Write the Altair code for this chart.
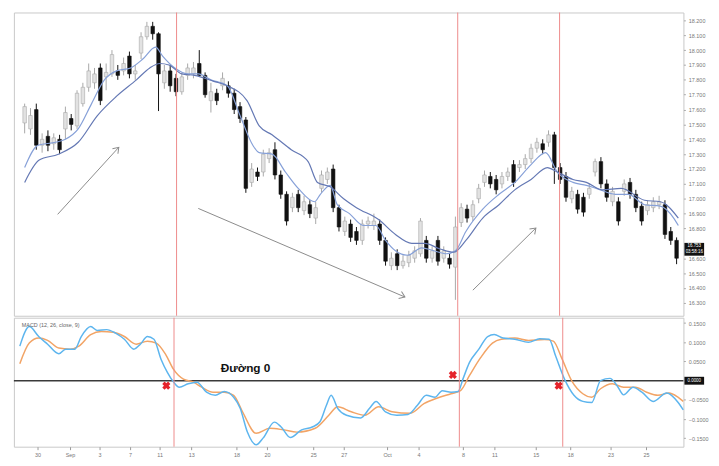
import json
import altair as alt
import pandas as pd

# ---------------- data ----------------
bar_open = [17.51, 17.47, 17.60, 17.36, 17.42, 17.37, 17.40, 17.47, 17.54, 17.49,
            17.64, 17.75, 17.78, 17.88, 17.82, 17.84, 17.86, 17.86, 17.96, 17.84,
            17.98, 18.09, 18.16, 18.11, 17.78, 17.86, 17.81, 17.72, 17.83, 17.84,
            17.91, 17.83, 17.66, 17.71, 17.76, 17.76, 17.71, 17.62, 17.53, 17.11,
            17.18, 17.18, 17.27, 17.33, 17.16, 17.03, 16.94, 17.03, 16.92, 16.96,
            16.87, 17.07, 17.13, 17.20, 16.94, 16.78, 16.83, 16.78, 16.72, 16.83,
            16.82, 16.83, 16.72, 16.55, 16.63, 16.55, 16.57, 16.60, 16.63, 16.72,
            16.60, 16.72, 16.60, 16.60, 16.54, 16.84, 16.93, 16.88, 17.00, 17.11,
            17.15, 17.13, 17.10, 17.15, 17.23, 17.21, 17.23, 17.27, 17.34, 17.37,
            17.38, 17.43, 17.21, 17.15, 17.00, 17.03, 17.01, 17.03, 17.18, 17.25,
            17.10, 16.98, 16.98, 17.05, 17.11, 17.03, 16.95, 16.92, 16.94, 16.96,
            16.96, 16.78, 16.72]
bar_close = [17.62, 17.56, 17.36, 17.40, 17.36, 17.41, 17.33, 17.58, 17.50, 17.71,
             17.75, 17.86, 17.84, 17.66, 17.85, 17.97, 17.83, 17.91, 17.84, 17.86,
             18.09, 18.16, 18.11, 17.84, 17.86, 17.76, 17.72, 17.82, 17.88, 17.88,
             17.83, 17.70, 17.72, 17.66, 17.81, 17.71, 17.60, 17.54, 17.07, 17.20,
             17.15, 17.30, 17.31, 17.16, 17.03, 16.85, 17.01, 16.94, 16.98, 16.90,
             16.94, 17.16, 17.18, 16.94, 16.81, 16.85, 16.74, 16.72, 16.83, 16.85,
             16.85, 16.72, 16.58, 16.60, 16.55, 16.58, 16.62, 16.65, 16.85, 16.60,
             16.65, 16.58, 16.65, 16.56, 16.81, 16.94, 16.87, 16.96, 17.07, 17.16,
             17.10, 17.06, 17.15, 17.18, 17.11, 17.23, 17.27, 17.34, 17.38, 17.33,
             17.43, 17.21, 17.13, 17.01, 17.05, 16.93, 16.91, 17.07, 17.25, 17.10,
             17.01, 17.05, 16.85, 17.10, 17.03, 16.94, 16.85, 16.96, 16.98, 16.98,
             16.76, 16.72, 16.60]
bar_high = [17.64, 17.61, 17.64, 17.44, 17.46, 17.44, 17.43, 17.62, 17.57, 17.73,
            17.78, 17.91, 17.88, 17.91, 17.91, 18.00, 17.90, 17.95, 17.99, 17.90,
            18.12, 18.19, 18.19, 18.12, 17.90, 17.90, 17.84, 17.85, 17.91, 17.92,
            18.00, 17.85, 17.78, 17.74, 17.85, 17.79, 17.74, 17.65, 17.55, 17.24,
            17.21, 17.33, 17.34, 17.38, 17.19, 17.05, 17.04, 17.06, 17.02, 16.99,
            16.98, 17.19, 17.21, 17.23, 16.96, 16.88, 16.86, 16.81, 16.86, 16.88,
            16.90, 16.86, 16.74, 16.64, 16.66, 16.62, 16.65, 16.68, 16.87, 16.75,
            16.68, 16.75, 16.68, 16.63, 16.88, 16.97, 16.96, 16.99, 17.10, 17.19,
            17.18, 17.16, 17.18, 17.21, 17.26, 17.26, 17.30, 17.37, 17.41, 17.40,
            17.46, 17.45, 17.24, 17.18, 17.08, 17.06, 17.04, 17.10, 17.27, 17.28,
            17.13, 17.08, 17.01, 17.13, 17.14, 17.06, 16.98, 16.99, 17.01, 17.02,
            16.99, 16.81, 16.74]
bar_low = [17.44, 17.43, 17.33, 17.31, 17.32, 17.33, 17.30, 17.40, 17.46, 17.47,
           17.62, 17.72, 17.74, 17.63, 17.73, 17.82, 17.80, 17.83, 17.81, 17.80,
           17.94, 18.07, 18.07, 17.59, 17.74, 17.72, 17.69, 17.70, 17.80, 17.81,
           17.82, 17.68, 17.58, 17.63, 17.73, 17.68, 17.57, 17.51, 17.04, 17.08,
           17.12, 17.15, 17.24, 17.13, 17.00, 16.82, 16.91, 16.91, 16.89, 16.87,
           16.83, 17.04, 17.10, 16.91, 16.78, 16.75, 16.71, 16.69, 16.69, 16.80,
           16.79, 16.69, 16.55, 16.52, 16.52, 16.53, 16.54, 16.57, 16.61, 16.57,
           16.57, 16.55, 16.57, 16.53, 16.32, 16.81, 16.84, 16.85, 16.97, 17.08,
           17.07, 17.03, 17.07, 17.12, 17.08, 17.18, 17.20, 17.24, 17.31, 17.30,
           17.35, 17.10, 17.10, 16.98, 16.97, 16.90, 16.88, 17.00, 17.15, 17.07,
           16.98, 16.95, 16.82, 17.02, 17.00, 16.91, 16.82, 16.89, 16.91, 16.93,
           16.73, 16.69, 16.56]

fast_i = [0, 2.3, 5.3, 7, 9.2, 11.5, 13.7, 15.8, 18.2, 20.3, 22.5, 23.7, 25.8, 28.2, 29.8,
          32, 34.8, 37, 39.2, 40.3, 42.5, 44.8, 47, 49.8, 50.8, 52.5, 53.7, 55.8, 58.2, 60.3,
          62, 63.7, 65.8, 68.2, 70.3, 72.5, 74, 75.8, 78.7, 81.5, 84.2, 87, 89.5, 91.5, 94.2,
          96.5, 98.2, 101.5, 103.7, 106.5, 109.2, 111.5, 112.3]
fast_v = [17.21, 17.36, 17.38, 17.40, 17.47, 17.64, 17.80, 17.86, 17.88, 17.94, 18.02, 17.96,
          17.88, 17.84, 17.84, 17.80, 17.76, 17.56, 17.36, 17.31, 17.30, 17.18, 17.07, 16.98,
          17.03, 17.09, 16.96, 16.90, 16.82, 16.82, 16.72, 16.65, 16.62, 16.67, 16.65, 16.63,
          16.65, 16.78, 16.93, 17.03, 17.11, 17.23, 17.31, 17.18, 17.11, 17.09, 17.07, 17.03,
          17.03, 16.96, 16.95, 16.87, 16.82]
slow_i = [0, 2.5, 5.8, 9.2, 12.5, 15.8, 19.2, 21.5, 23.2, 24.8, 27, 29.2, 32.5, 34.8, 38.2,
          40.3, 42.5, 45.8, 48.7, 50.3, 52.5, 54.8, 57, 60.8, 63.7, 66.5, 68.7, 71.5, 73.7,
          75.8, 78.7, 81.5, 84.2, 87, 89.8, 91.5, 94.2, 96.5, 99.2, 102.5, 106.5, 109.2, 112.3]
slow_v = [17.11, 17.26, 17.30, 17.38, 17.56, 17.69, 17.80, 17.88, 17.91, 17.90, 17.84, 17.83,
          17.79, 17.76, 17.66, 17.49, 17.43, 17.33, 17.25, 17.11, 17.08, 17.00, 16.94, 16.86,
          16.76, 16.70, 16.70, 16.66, 16.64, 16.72, 16.87, 16.96, 17.06, 17.13, 17.21, 17.18,
          17.13, 17.11, 17.06, 17.07, 16.99, 16.98, 16.87]

macd_i = [0, 1.6, 3.2, 4.7, 6.6, 7.75, 9.3, 10.4, 12, 13.1, 14.7, 16.2, 17.7, 19.3, 20.4,
          21.6, 22.7, 23.9, 25, 26, 27, 28.5, 30, 31.6, 33.1, 34.6, 36.2, 37.3, 38.5, 40,
          41.2, 43.1, 44.2, 45.8, 47.7, 49.6, 50.8, 51.9, 52.7, 53.8, 55.3, 57.7, 59.2, 60.3,
          61.9, 63.8, 65.7, 67.3, 68.8, 70.3, 71.5, 73, 74.2, 75, 76.1, 77.7, 79.2, 80.3,
          81.8, 83.8, 86.1, 88, 89.6, 90.7, 92.2, 93.8, 95.3, 96.8, 98.3, 99.9, 101.1,
          102.2, 103.8, 105.3, 107.2, 109.5, 111.4, 112.3]
macd_v = [0.09, 0.141, 0.115, 0.095, 0.07, 0.082, 0.082, 0.115, 0.141, 0.131, 0.133, 0.124,
          0.108, 0.082, 0.095, 0.115, 0.108, 0.056, 0.021, -0.003, -0.017, -0.008, -0.004,
          -0.03, -0.038, -0.028, -0.043, -0.072, -0.133, -0.167, -0.149, -0.108, -0.12,
          -0.148, -0.128, -0.12, -0.107, -0.064, -0.038, -0.072, -0.09, -0.097, -0.072,
          -0.054, -0.081, -0.09, -0.088, -0.064, -0.038, -0.043, -0.026, -0.03, -0.028,
          0.004, 0.047, 0.082, 0.115, 0.12, 0.111, 0.108, 0.1, 0.109, 0.108, 0.064, 0.004,
          -0.038, -0.054, -0.057, 0.0, 0.006, -0.013, -0.037, -0.017, -0.03, -0.054, -0.032,
          -0.056, -0.076]
sig_i = [0, 1.6, 3.2, 4.7, 6.6, 8.5, 10, 12, 13.8, 15.8, 17.7, 19.7, 21.6, 23.1, 24.7, 26,
         27.7, 29.3, 30.8, 32.7, 34.6, 36.2, 37.7, 40, 42.3, 44.6, 46.9, 50, 52.3, 53.8, 56.1,
         58.4, 60.75, 63, 66.1, 68.4, 70.7, 73, 74.6, 76.1, 78, 80, 81.5, 83.8, 86.1, 88.8,
         90.3, 91.8, 93.4, 95.3, 96.8, 98.3, 100.3, 102.2, 104.2, 106.1, 108, 109.9, 111.4, 112.3]
sig_v = [0.044, 0.098, 0.111, 0.105, 0.085, 0.082, 0.09, 0.12, 0.128, 0.126, 0.115, 0.095,
         0.103, 0.098, 0.068, 0.03, 0.004, -0.003, -0.017, -0.03, -0.03, -0.038, -0.081,
         -0.137, -0.124, -0.128, -0.134, -0.124, -0.09, -0.068, -0.081, -0.09, -0.068, -0.081,
         -0.085, -0.06, -0.045, -0.034, -0.026, 0.013, 0.06, 0.098, 0.108, 0.111, 0.105,
         0.107, 0.103, 0.056, 0.0, -0.034, -0.043, -0.021, -0.008, -0.017, -0.017, -0.03,
         -0.038, -0.032, -0.043, -0.054]

red_line_i = [26.1, 74.4, 91.9]
cross_i = [24.8, 73.3, 91.2]
cross_v = [-0.013, 0.015, -0.013]

arrow_x0 = [5.67, 29.83, 77.0]
arrow_y0 = [16.895, 16.935, 16.385]
arrow_x1 = [16.17, 65.33, 87.83]
arrow_y1 = [17.346, 16.339, 16.803]
arrow_angle = [42.8, 112.9, 45.9]

tick_pos = [3.0, 8.5, 13.5, 18.67, 23.67, 29.0, 36.67, 41.83, 49.67, 54.83,
            62.17, 67.5, 75.0, 80.33, 87.33, 93.17, 100.0, 106.0]
tick_lab = ["30", "Sep", "3", "7", "11", "13", "18", "20", "25", "27",
            "Oct", "4", "8", "11", "15", "18", "23", "25"]
# 16.700 is hidden under the last-price box, 0.0000 under the zero box
price_ticks = [16.3, 16.4, 16.5, 16.6, 16.8, 16.9, 17.0, 17.1, 17.2,
               17.3, 17.4, 17.5, 17.6, 17.7, 17.8, 17.9, 18.0, 18.1, 18.2]
macd_ticks = [-0.15, -0.1, -0.05, 0.05, 0.1, 0.15]

zero_label = "Đường 0"
macd_title = "MACD (12, 26, close, 9)"
last_price = "16.753"
countdown = "03:58:16"
zero_tag = "0.0000"

# ---------------- chart ----------------
W = 680
H_TOP = 308
H_MACD = 131
FONT = "Liberation Sans"
RED_LINE = "#ee8a8a"

xs = alt.Scale(domain=[-1, 112.33], nice=False, zero=False)
ps = alt.Scale(domain=[16.213, 18.253], nice=False, zero=False)
ms = alt.Scale(domain=[-0.172, 0.164], nice=False, zero=False)

price_axis = alt.Axis(orient="right", values=price_ticks, format=".3f", title=None,
                      grid=False, domain=False, tickSize=2, tickColor="#aaaaaa",
                      labelFontSize=5.5, labelColor="#777777", labelPadding=3, labelFont=FONT)
macd_axis = alt.Axis(orient="right", values=macd_ticks, format=".4f", title=None,
                     grid=False, domain=False, tickSize=2, tickColor="#aaaaaa",
                     labelFontSize=5.5, labelColor="#777777", labelPadding=3, labelFont=FONT)
label_expr = "%s[indexof(%s, datum.value)]" % (json.dumps(tick_lab), json.dumps(tick_pos))
time_axis = alt.Axis(values=tick_pos, labelExpr=label_expr, title=None, grid=False,
                     domain=False, tickSize=3, tickColor="#999999", labelFontSize=5.5,
                     labelColor="#777777", labelPadding=3, labelFont=FONT)

candles = pd.DataFrame({"i": list(range(len(bar_open))), "o": bar_open, "c": bar_close,
                        "h": bar_high, "l": bar_low})
candles["dir"] = ["up" if c >= o else "down" for o, c in zip(bar_open, bar_close)]

stroke_scale = alt.Scale(domain=["up", "down"], range=["#a8a8a8", "#111111"])
fill_scale = alt.Scale(domain=["up", "down"], range=["#e2e2e2", "#111111"])

red_df = pd.DataFrame({"i": red_line_i})
red_top = alt.Chart(red_df).mark_rule(color=RED_LINE, strokeWidth=1).encode(
    x=alt.X("i:Q", scale=xs, axis=None))

wicks = alt.Chart(candles).mark_rule(strokeWidth=1).encode(
    x=alt.X("i:Q", scale=xs, axis=None),
    y=alt.Y("l:Q", scale=ps, axis=price_axis),
    y2="h:Q",
    stroke=alt.Stroke("dir:N", scale=stroke_scale, legend=None),
)
bodies = alt.Chart(candles).mark_bar(size=3.6, strokeWidth=0.6).encode(
    x=alt.X("i:Q", scale=xs, axis=None),
    y=alt.Y("o:Q", scale=ps, axis=price_axis),
    y2="c:Q",
    fill=alt.Fill("dir:N", scale=fill_scale, legend=None),
    stroke=alt.Stroke("dir:N", scale=stroke_scale, legend=None),
)

fast_df = pd.DataFrame({"i": fast_i, "v": fast_v})
slow_df = pd.DataFrame({"i": slow_i, "v": slow_v})
fast_line = alt.Chart(fast_df).mark_line(color="#86a0d8", strokeWidth=1.2, interpolate="monotone").encode(
    x=alt.X("i:Q", scale=xs, axis=None), y=alt.Y("v:Q", scale=ps, axis=price_axis))
slow_line = alt.Chart(slow_df).mark_line(color="#6478b4", strokeWidth=1.2, interpolate="monotone").encode(
    x=alt.X("i:Q", scale=xs, axis=None), y=alt.Y("v:Q", scale=ps, axis=price_axis))

arrows = pd.DataFrame({"x0": arrow_x0, "y0": arrow_y0, "x1": arrow_x1, "y1": arrow_y1,
                       "ang": arrow_angle})
arrow_lines = alt.Chart(arrows).mark_rule(color="#8a8a8a", strokeWidth=1).encode(
    x=alt.X("x0:Q", scale=xs, axis=None), y=alt.Y("y0:Q", scale=ps, axis=price_axis),
    x2="x1:Q", y2="y1:Q")
arrow_heads = alt.Chart(arrows).mark_point(
    shape="M-0.6,0.85L0,0L0.6,0.85", filled=False, size=160, strokeWidth=1,
    color="#8a8a8a", opacity=1).encode(
    x=alt.X("x1:Q", scale=xs, axis=None), y=alt.Y("y1:Q", scale=ps, axis=price_axis),
    angle=alt.Angle("ang:Q", scale=None))

box_df = pd.DataFrame({"a": [last_price], "b": [countdown]})
price_box = alt.Chart(box_df).mark_rect(color="#111111").encode(
    x=alt.value(681), x2=alt.value(701), y=alt.value(234), y2=alt.value(247))
price_txt1 = alt.Chart(box_df).mark_text(color="white", fontSize=4.5, font=FONT).encode(
    x=alt.value(691), y=alt.value(237.5), text="a:N")
price_txt2 = alt.Chart(box_df).mark_text(color="white", fontSize=4.5, font=FONT).encode(
    x=alt.value(691), y=alt.value(243.5), text="b:N")

top = alt.layer(wicks, bodies, fast_line, slow_line, red_top, arrow_lines, arrow_heads,
                price_box, price_txt1, price_txt2).properties(width=W, height=H_TOP)

# MACD panel
red_bot = alt.Chart(red_df).mark_rule(color=RED_LINE, strokeWidth=1).encode(
    x=alt.X("i:Q", scale=xs, axis=time_axis))
zero_df = pd.DataFrame({"v": [0.0]})
zero_rule = alt.Chart(zero_df).mark_rule(color="#3a3a3a", strokeWidth=1.6).encode(
    y=alt.Y("v:Q", scale=ms, axis=macd_axis))
macd_df = pd.DataFrame({"i": macd_i, "v": macd_v})
sig_df = pd.DataFrame({"i": sig_i, "v": sig_v})
macd_line = alt.Chart(macd_df).mark_line(color="#5db5ee", strokeWidth=1.5, interpolate="monotone").encode(
    x=alt.X("i:Q", scale=xs, axis=time_axis), y=alt.Y("v:Q", scale=ms, axis=macd_axis))
sig_line = alt.Chart(sig_df).mark_line(color="#f2a466", strokeWidth=1.5, interpolate="monotone").encode(
    x=alt.X("i:Q", scale=xs, axis=time_axis), y=alt.Y("v:Q", scale=ms, axis=macd_axis))
cross_df = pd.DataFrame({"i": cross_i, "v": cross_v})
crosses = alt.Chart(cross_df).mark_point(shape="cross", angle=45, filled=True, size=70,
                                         color="#e5232b", opacity=1).encode(
    x=alt.X("i:Q", scale=xs, axis=time_axis), y=alt.Y("v:Q", scale=ms, axis=macd_axis))
label_df = pd.DataFrame({"i": [34.0], "v": [0.033], "t": [zero_label]})
zero_text = alt.Chart(label_df).mark_text(font=FONT, fontWeight="bold", fontSize=12,
                                          align="left", baseline="middle", color="#111111").encode(
    x=alt.X("i:Q", scale=xs, axis=time_axis), y=alt.Y("v:Q", scale=ms, axis=macd_axis), text="t:N")
title_df = pd.DataFrame({"t": [macd_title]})
macd_title_txt = alt.Chart(title_df).mark_text(font=FONT, fontSize=5.5, align="left",
                                               color="#666666").encode(
    x=alt.value(8), y=alt.value(7), text="t:N")
zbox_df = pd.DataFrame({"t": [zero_tag]})
zero_box = alt.Chart(zbox_df).mark_rect(color="#111111").encode(
    x=alt.value(681), x2=alt.value(701), y=alt.value(60), y2=alt.value(68))
zero_box_txt = alt.Chart(zbox_df).mark_text(color="white", fontSize=4.5, font=FONT).encode(
    x=alt.value(691), y=alt.value(64), text="t:N")

bottom = alt.layer(zero_rule, sig_line, macd_line, red_bot, crosses, zero_text, macd_title_txt,
                   zero_box, zero_box_txt).properties(width=W, height=H_MACD)

chart = alt.vconcat(top, bottom, spacing=0).properties(
    padding={"left": 4, "top": 0, "right": 2, "bottom": 2},
    background="white",
).configure_view(stroke="#c8c8c8", strokeWidth=1)

chart.save("out.html", embed_options={"renderer": "svg", "actions": False})
